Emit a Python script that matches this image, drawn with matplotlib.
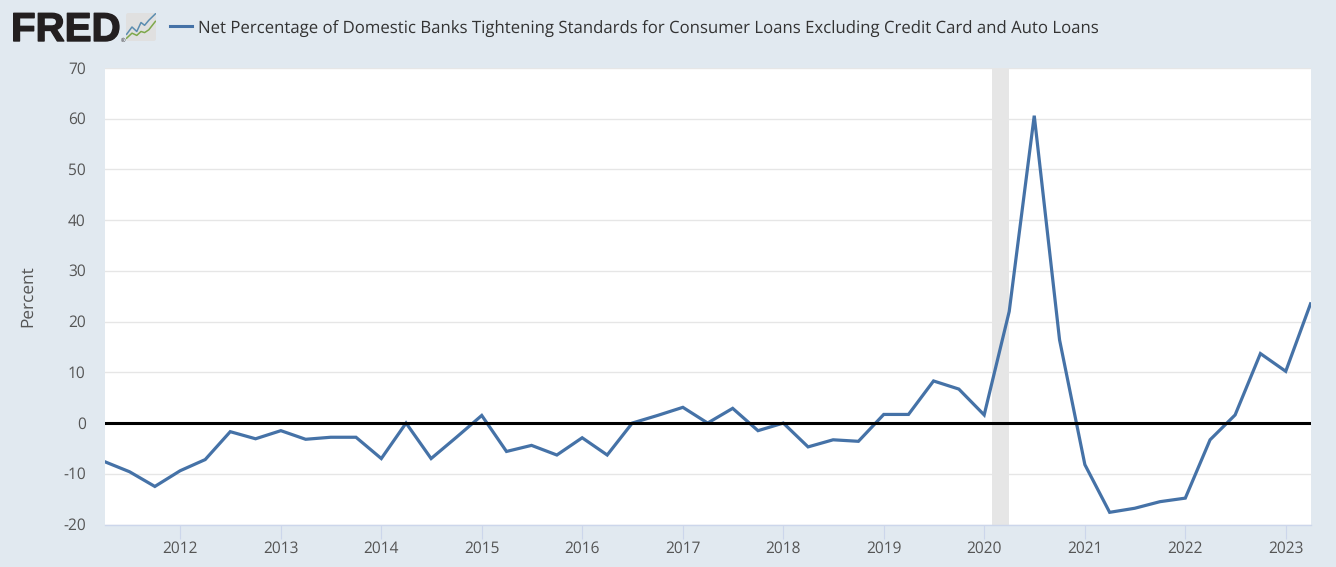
import matplotlib
matplotlib.use("Agg")
import matplotlib.pyplot as plt
import matplotlib.dates as mdates
import matplotlib.patheffects as pe
import matplotlib.transforms as mtransforms
from matplotlib.lines import Line2D
from matplotlib.patches import FancyBboxPatch
from datetime import date

TITLE = "Net Percentage of Domestic Banks Tightening Standards for Consumer Loans Excluding Credit Card and Auto Loans"
Y_LABEL = "Percent"
values = [-7.6, -9.6, -12.5,
          -9.4, -7.2, -1.7, -3.1,
          -1.5, -3.2, -2.8, -2.8,
          -7.0, 0.0, -7.0, -2.8,
          1.5, -5.6, -4.4, -6.3,
          -2.9, -6.3, 0.0, 1.5,
          3.1, 0.0, 2.9, -1.5,
          0.0, -4.7, -3.3, -3.6,
          1.7, 1.7, 8.3, 6.7,
          1.6, 22.0, 60.6, 16.4,
          -8.2, -17.6, -16.8, -15.5,
          -14.8, -3.3, 1.6, 13.7,
          10.2, 23.5]
first_year, first_quarter = 2011, 2
y_ticks = [-20, -10, 0, 10, 20, 30, 40, 50, 60, 70]
x_years = list(range(2012, 2024))
recession = (date(2020, 1, 31), date(2020, 4, 1))

dates = []
for i in range(len(values)):
    q = first_quarter - 1 + i
    dates.append(date(first_year + q // 4, q % 4 * 3 + 1, 1))

BG = "#e1e9f0"
W, H = 1336, 567
plt.rcParams["font.family"] = ["Open Sans", "DejaVu Sans"]
plt.rcParams["axes.unicode_minus"] = False
plt.rcParams["text.hinting"] = "no_hinting"
plt.rcParams["text.hinting_factor"] = 8
fig = plt.figure(figsize=(W / 100, H / 100), dpi=100, facecolor=BG)
ax = fig.add_axes([104.5 / W, 1 - 524.5 / H, (1310.5 - 104.5) / W, (524.5 - 68) / H])
ax.set_facecolor("white")
ax.axvspan(recession[0], recession[1], color="#e6e6e6", lw=0, zorder=1)
ax.plot(dates, values, color="#4572a7", lw=2.3, zorder=3, solid_joinstyle="miter")
ax.axhline(0, color="black", lw=2.2, zorder=4)
ax.set_xlim(dates[0], dates[-1])
ax.set_ylim(-20, 70)
ax.set_yticks(y_ticks)
ax.set_xticks([date(y, 1, 1) for y in x_years])
ax.xaxis.set_major_formatter(mdates.DateFormatter("%Y"))
ax.grid(axis="y", color="#e6e6e6", lw=1.0, zorder=0)
ax.set_axisbelow(True)
for s in ["top", "right", "left"]:
    ax.spines[s].set_visible(False)
ax.spines["bottom"].set_color("#ccd6eb")
ax.spines["bottom"].set_linewidth(1.0)
ax.tick_params(axis="x", labelsize=11.2, length=10, width=0.8, color="#ccd6eb", pad=2)
ax.tick_params(axis="y", labelsize=11.2, length=0, pad=13.5)
for lab in ax.get_xticklabels() + ax.get_yticklabels():
    lab.set_color("#555555")
shift_down = mtransforms.ScaledTranslation(0, -1.2 / 100, fig.dpi_scale_trans)
for lab in ax.get_yticklabels():
    lab.set_verticalalignment("center")
    lab.set_transform(lab.get_transform() + shift_down)
fig.text(28 / W, 1 - 296 / H, Y_LABEL, rotation=90, ha="center", va="center", color="#555555", fontsize=12.4)

# FRED logo and legend
fig.text(11 / W, 1 - 41 / H, "FRED", family="Liberation Sans", weight="bold", fontsize=29.0, color="#231f20",
         ha="left", va="baseline",
         path_effects=[pe.withStroke(linewidth=1.0, foreground="#231f20")])
fig.text(120.5 / W, 1 - 41.5 / H, "®", family="Liberation Sans", fontsize=4.5, color="#231f20", ha="left", va="baseline")
icon = fig.add_axes([126 / W, 1 - 41 / H, 30 / W, 28 / H])
icon.set_axis_off()
icon.set_xlim(0, 1)
icon.set_ylim(0, 1)
icon.add_patch(FancyBboxPatch((0.0, 0.0), 1.0, 1.0, boxstyle="round,pad=0,rounding_size=0.08", fc="#e0e0e0", ec="none"))
icon.plot([0.02, 0.2, 0.36, 0.5, 0.62, 0.76, 0.98], [0.24, 0.5, 0.34, 0.66, 0.56, 0.74, 0.97], color="#5b8db0", lw=1.1)
icon.plot([0.02, 0.2, 0.36, 0.5, 0.62, 0.76, 0.98], [0.1, 0.28, 0.2, 0.34, 0.3, 0.4, 0.7], color="#7ea84a", lw=1.1)
fig.add_artist(Line2D([169.5 / W, 191.5 / W], [1 - 26 / H, 1 - 26 / H], color="#4572a7", lw=2.2))
fig.text(198 / W, 1 - 28.5 / H, TITLE, fontsize=12.1, color="#333333", ha="left", va="center")
fig.savefig("out.png", dpi=100, facecolor=BG)
